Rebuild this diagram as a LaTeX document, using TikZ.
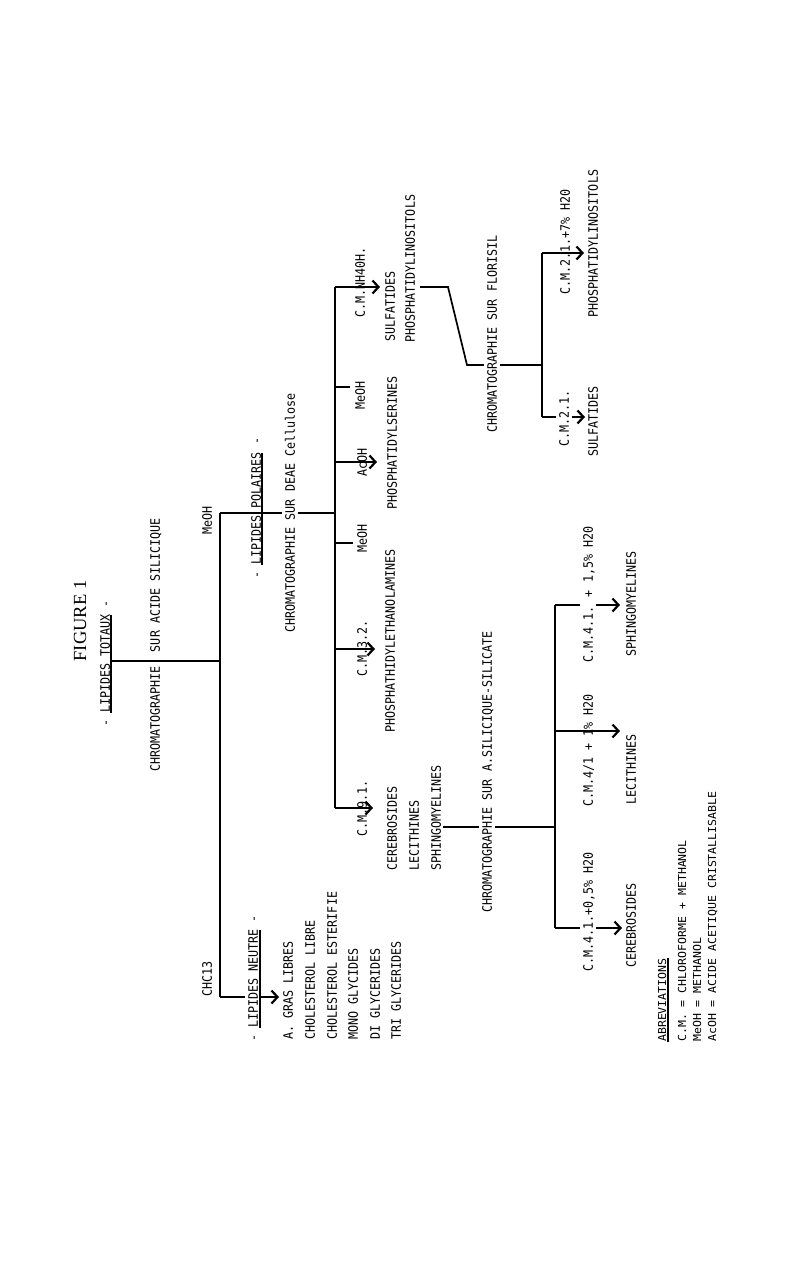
\documentclass[tikz,border=0pt]{standalone}
\usepackage{fontspec}
\newfontfamily\tw[FakeStretch=0.9]{DejaVu Sans Mono}
\newfontfamily\twb[FakeStretch=1.05]{DejaVu Sans Mono}
\newfontfamily\figf{Liberation Serif}
\usetikzlibrary{arrows.meta,backgrounds}
\tikzset{
  lbl/.style={font=\tw\fontsize{13}{15}\selectfont, rotate=90, anchor=west, inner sep=0pt, text height=9.5pt, text depth=0pt},
  lblgap/.style={lbl, fill=white, inner ysep=3pt},
  abbr/.style={font=\twb\fontsize{11}{13}\selectfont, rotate=90, anchor=west, inner sep=0pt, text height=8pt, text depth=0pt},
  ln/.style={line width=1.7pt},
  arr/.style={line width=2.2pt, -{Straight Barb[length=6pt,width=13pt]}},
  uline/.style={line width=1.3pt},
}
\begin{document}
\begin{tikzpicture}[x=1pt,y=-1pt]
\begin{pgfonlayer}{background}
\fill[white] (0,0) rectangle (800,1273);
\end{pgfonlayer}
\useasboundingbox (0,0) rectangle (800,1273);

% ---- title and first level
\node[font=\figf\fontsize{18.5}{20}\selectfont, rotate=90, inner sep=0pt] (fig) at (80,621) {FIGURE 1};
\node[lbl] (tot) at (105,727) {- LIPIDES TOTAUX -};
\node[lbl] (chrA) at (155,772) {CHROMATOGRAPHIE\ \ SUR ACIDE SILICIQUE};
\node[lbl] (meoh1) at (207,535) {MeOH};
\node[lbl] (chcl) at (207,997) {CHC13};

% ---- neutral lipids
\node[lblgap] (neu) at (253,1042) {- LIPIDES NEUTRE -};
\node[lbl] (n1) at (288,1040) {A. GRAS LIBRES};
\node[lbl] (n2) at (310,1040) {CHOLESTEROL LIBRE};
\node[lbl] (n3) at (332,1040) {CHOLESTEROL ESTERIFIE};
\node[lbl] (n4) at (353,1040) {MONO GLYCIDES};
\node[lbl] (n5) at (375,1040) {DI GLYCERIDES};
\node[lbl] (n6) at (396,1040) {TRI GLYCERIDES};

% ---- polar lipids
\node[lbl] (pol) at (256,579) {- LIPIDES POLAIRES -};
\node[lblgap] (chrD) at (290,633) {CHROMATOGRAPHIE SUR DEAE Cellulose};
\node[lbl] (cm91) at (362,837) {C.M.9.1.};
\node[lbl] (cere1) at (392,871) {CEREBROSIDES};
\node[lbl] (leci1) at (414,871) {LECITHINES};
\node[lbl] (sphi1) at (436,871) {SPHINGOMYELINES};
\node[lbl] (cm32) at (362,677) {C.M.3.2.};
\node[lbl] (pe) at (390,733) {PHOSPHATHIDYLETHANOLAMINES};
\node[lbl] (meoh2) at (362,553) {MeOH};
\node[lbl] (acoh) at (362,477) {AcOH};
\node[lbl] (ps) at (392,510) {PHOSPHATIDYLSERINES};
\node[lbl] (meoh3) at (360,410) {MeOH};
\node[lbl] (cmnh) at (360,318) {C.M.NH40H.};
\node[lbl] (sulf1) at (390,342) {SULFATIDES};
\node[lbl] (pi1) at (410,343) {PHOSPHATIDYLINOSITOLS};

% ---- florisil
\node[lblgap] (chrF) at (492,433) {CHROMATOGRAPHIE SUR FLORISIL};
\node[lblgap] (cm21) at (564,447) {C.M.2.1.};
\node[lbl] (sulf2) at (593,457) {SULFATIDES};
\node[lbl] (cm217) at (565,295) {C.M.2.1.+7\% H20};
\node[lbl] (pi2) at (593,318) {PHOSPHATIDYLINOSITOLS};

% ---- silicic acid - silicate
\node[lblgap] (chrS) at (487,913) {CHROMATOGRAPHIE SUR A.SILICIQUE-SILICATE};
\node[lblgap] (cm405) at (588,972) {C.M.4.1.+0,5\% H20};
\node[lbl] (cere2) at (631,968) {CEREBROSIDES};
\node[lbl] (cm41) at (588,807) {C.M.4/1 + 1\% H20};
\node[lbl] (leci2) at (631,805) {LECITHINES};
\node[lblgap] (cm415) at (588,663) {C.M.4.1. + 1,5\% H20};
\node[lbl] (sphi2) at (631,657) {SPHINGOMYELINES};

% ---- abbreviations
\node[abbr] (abr) at (662,1042) {ABREVIATIONS};
\node[abbr] (ab1) at (682,1042) {C.M. = CHLOROFORME + METHANOL};
\node[abbr] (ab2) at (697,1042) {MeOH = METHANOL};
\node[abbr] (ab3) at (712,1042) {AcOH = ACIDE ACETIQUE CRISTALLISABLE};

% ---- underlines
\draw[uline] (111,713) -- (111,615);
\draw[uline] (262,565) -- (262,453);
\draw[uline] (260,1028) -- (260,930);
\draw[uline] (668,1042) -- (668,958);

% ---- junction coordinates
\coordinate (t0) at (111,661);
\coordinate (t1) at (220,661);
\coordinate (vtop) at (220,513);
\coordinate (vbot) at (220,997);
\coordinate (neuA) at (279,997);
\coordinate (ptop) at (335,513);
\coordinate (m0) at (335,287);
\coordinate (m1) at (335,808);
\coordinate (e91) at (373,808);
\coordinate (b32) at (335,649);
\coordinate (e32) at (375,649);
\coordinate (bme2) at (335,543);
\coordinate (eme2) at (353,543);
\coordinate (bac) at (335,462);
\coordinate (eac) at (377,462);
\coordinate (bme3) at (335,387);
\coordinate (eme3) at (350,387);
\coordinate (enh) at (380,287);
\coordinate (f0) at (420,287);
\coordinate (f1) at (448,287);
\coordinate (f2) at (467,365);
\coordinate (f3) at (542,365);
\coordinate (fa) at (542,253);
\coordinate (fb) at (542,417);
\coordinate (efa) at (584,253);
\coordinate (efb) at (585,417);
\coordinate (s0) at (443,827);
\coordinate (s1) at (555,827);
\coordinate (sa) at (555,605);
\coordinate (sb) at (555,731);
\coordinate (sc) at (555,928);
\coordinate (esa) at (620,605);
\coordinate (esb) at (620,731);
\coordinate (esc) at (622,928);

\begin{pgfonlayer}{background}
\draw[ln] (t0) -- (t1);
\draw[ln] (vtop) -- (vbot);
\draw[ln] (vtop) -- (ptop);
\draw[arr] (vbot) -- (neuA);
\draw[ln] (m0) -- (m1);
\draw[arr] (m1) -- (e91);
\draw[arr] (b32) -- (e32);
\draw[ln] (bme2) -- (eme2);
\draw[arr] (bac) -- (eac);
\draw[ln] (bme3) -- (eme3);
\draw[arr] (m0) -- (enh);
\draw[ln] (f0) -- (f1) -- (f2) -- (f3);
\draw[ln] (fa) -- (fb);
\draw[arr] (fa) -- (efa);
\draw[arr] (fb) -- (efb);
\draw[ln] (s0) -- (s1);
\draw[ln] (sa) -- (sc);
\draw[arr] (sa) -- (esa);
\draw[arr] (sb) -- (esb);
\draw[arr] (sc) -- (esc);
\end{pgfonlayer}
\end{tikzpicture}
\end{document}
